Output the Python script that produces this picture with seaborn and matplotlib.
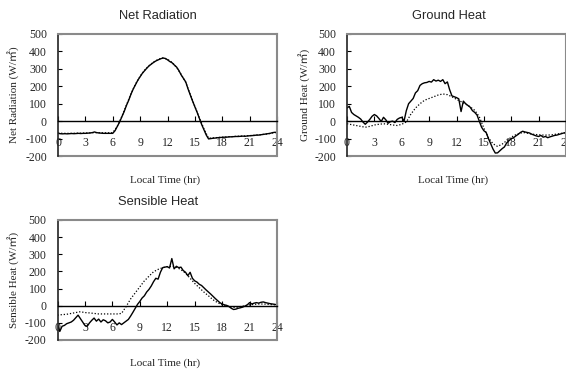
import numpy as np
import pandas as pd
import matplotlib
matplotlib.use('Agg')
import matplotlib.pyplot as plt
import seaborn as sns

# 时间轴 (measured every 15 min, model every 30 min)
hours_obs = np.arange(0, 24.01, 0.25)
hours_mod = np.arange(0, 24.01, 0.5)

net_obs = [
    -70, -72, -73, -72, -73, -72, -71, -72, -71, -70, -71, -70,
    -70, -69, -68, -66, -62, -66, -68, -69, -70, -70, -70, -70,
    -70, -55, -30, -5, 25, 55, 90, 120, 155, 185, 210, 235,
    255, 275, 290, 305, 318, 328, 338, 346, 352, 358, 362, 360,
    352, 342, 335, 322, 310, 290, 265, 245, 225, 185, 150, 115,
    82, 50, 15, -20, -50, -80, -102, -100, -98, -97, -95, -94,
    -93, -92, -92, -90, -90, -89, -88, -88, -87, -86, -87, -85,
    -84, -83, -82, -80, -80, -78, -76, -74, -72, -70, -66, -64,
    -66,
]
net_mod = [
    -68, -70, -70, -70, -69, -69, -68, -67, -66, -66, -67, -67,
    -66, -30, 28, 92, 158, 213, 258, 293, 320, 340, 355, 363,
    355, 337, 308, 268, 222, 152, 85, 18, -45, -98, -96, -94,
    -92, -90, -89, -87, -86, -85, -83, -81, -79, -76, -73, -68,
    -64,
]

ground_obs = [
    75, 85, 50, 38, 30, 22, 12, -5, -18, -5, 10, 28,
    38, 30, 15, -2, 22, 8, -12, -3, 0, -8, 10, 18,
    22, 0, 60, 100, 115, 130, 162, 175, 205, 215, 220, 222,
    228, 224, 238, 230, 235, 228, 238, 215, 225, 180, 145, 140,
    135, 128, 55, 115, 100, 90, 80, 60, 50, 35, 0, -35,
    -55, -65, -100, -130, -160, -183, -182, -170, -158, -148, -125, -112,
    -100, -95, -85, -76, -65, -58, -62, -65, -68, -75, -80, -85,
    -88, -82, -92, -88, -95, -90, -86, -82, -80, -76, -72, -68,
    -66,
]
ground_mod = [
    -15, -20, -25, -30, -35, -30, -22, -18, -15, -18, -22, -25,
    -18, -5, 40, 75, 100, 120, 130, 140, 150, 156, 152, 140,
    125, 112, 98, 82, 62, 25, -40, -95, -130, -145, -132, -112,
    -92, -78, -68, -66, -72, -76, -78, -80, -80, -78, -74, -70,
    -66,
]

sensible_obs = [
    -110, -150, -120, -115, -105, -100, -95, -85, -70, -55, -75, -95,
    -115, -120, -100, -85, -72, -90, -78, -95, -82, -88, -100, -95,
    -80, -95, -112, -100, -110, -100, -90, -80, -60, -38, -15, 8,
    25, 45, 58, 80, 95, 115, 140, 160, 155, 195, 222, 225,
    228, 220, 275, 215, 230, 222, 225, 205, 195, 175, 195, 160,
    145, 138, 125, 118, 105, 92, 80, 68, 55, 42, 30, 18,
    10, 5, 2, -5, -15, -22, -20, -15, -12, -8, -2, 5,
    18, 10, 15, 18, 15, 20, 22, 18, 15, 12, 10, 8,
    5,
]
sensible_mod = [
    -55, -52, -50, -45, -40, -35, -40, -42, -45, -48, -48, -48,
    -48, -48, -45, -5, 40, 75, 110, 145, 172, 198, 212, 222,
    228, 230, 225, 210, 190, 160, 130, 105, 80, 58, 35, 18,
    5, -2, -8, -10, -5, 0, 5, 8, 10, 10, 8, 6,
    5,
]

panels = [
    ('Net Radiation', 'Net Radiation (W/㎡)', net_obs, net_mod),
    ('Ground Heat', 'Ground Heat (W/㎡)', ground_obs, ground_mod),
    ('Sensible Heat', 'Sensible Heat (W/㎡)', sensible_obs, sensible_mod),
]
xticks = list(range(0, 25, 3))
yticks = list(range(-200, 501, 100))

sns.set_theme(style='white')
plt.rcParams['font.family'] = ['Liberation Serif', 'Noto Sans CJK JP', 'DejaVu Sans']
plt.rcParams['axes.unicode_minus'] = False  # 用普通连字符作负号

W, H = 566, 369
fig = plt.figure(figsize=(W / 100, H / 100), dpi=100)

# 像素坐标: left, top, right, bottom
boxes = [(58, 34, 277, 156), (347, 34, 566, 156), (57.5, 220, 277, 340)]
title_pos = [(158, 16), (449, 16), (158, 202)]
xlabel_pos = [(165, 180), (453, 180), (165, 363)]
ylabel_x = [13, 304, 13]

for (title, ylab, obs, mod), box, tp, xp, yx in zip(panels, boxes, title_pos, xlabel_pos, ylabel_x):
    l, t, r, b = box
    ax = fig.add_axes([l / W, 1 - b / H, (r - l) / W, (b - t) / H])
    df_obs = pd.DataFrame({'hour': hours_obs, 'value': obs})
    df_mod = pd.DataFrame({'hour': hours_mod, 'value': mod})
    sns.lineplot(data=df_mod, x='hour', y='value', ax=ax, color='black',
                 linestyle=(0, (1, 1.5)), linewidth=0.9)
    sns.lineplot(data=df_obs, x='hour', y='value', ax=ax, color='black', linewidth=1.0)
    ax.set_xlim(0, 24)
    ax.set_ylim(-200, 500)
    ax.set_xticks(xticks)
    ax.set_yticks(yticks)
    ax.set_xlabel('')
    ax.set_ylabel('')
    ax.spines['bottom'].set_position(('data', 0))
    ax.spines['bottom'].set_color('black')
    ax.spines['bottom'].set_linewidth(1.0)
    ax.spines['left'].set_color('#222222')
    ax.spines['left'].set_linewidth(1.2)
    for s in ['top', 'right']:
        ax.spines[s].set_color('#8a8a8a')
        ax.spines[s].set_linewidth(1.5)
    ax.axhline(-200, color='#8a8a8a', linewidth=1.5, clip_on=False)
    ax.tick_params(axis='x', direction='in', length=3.5, width=0.8, color='black',
                   pad=11.5, labelsize=8.5, bottom=True)
    ax.tick_params(axis='y', direction='in', length=3, width=0.8, color='black',
                   pad=8, labelsize=8.5, left=True)
    fig.text(tp[0] / W, 1 - tp[1] / H, title, ha='center', va='center',
             fontsize=9.3, family='Liberation Sans')
    fig.text(xp[0] / W, 1 - xp[1] / H, 'Local Time (hr)', ha='center', va='center',
             fontsize=8)
    fig.text(yx / W, 1 - ((t + b) / 2) / H, ylab, ha='center', va='center',
             rotation=90, fontsize=8)

fig.savefig('out.png', dpi=100)
